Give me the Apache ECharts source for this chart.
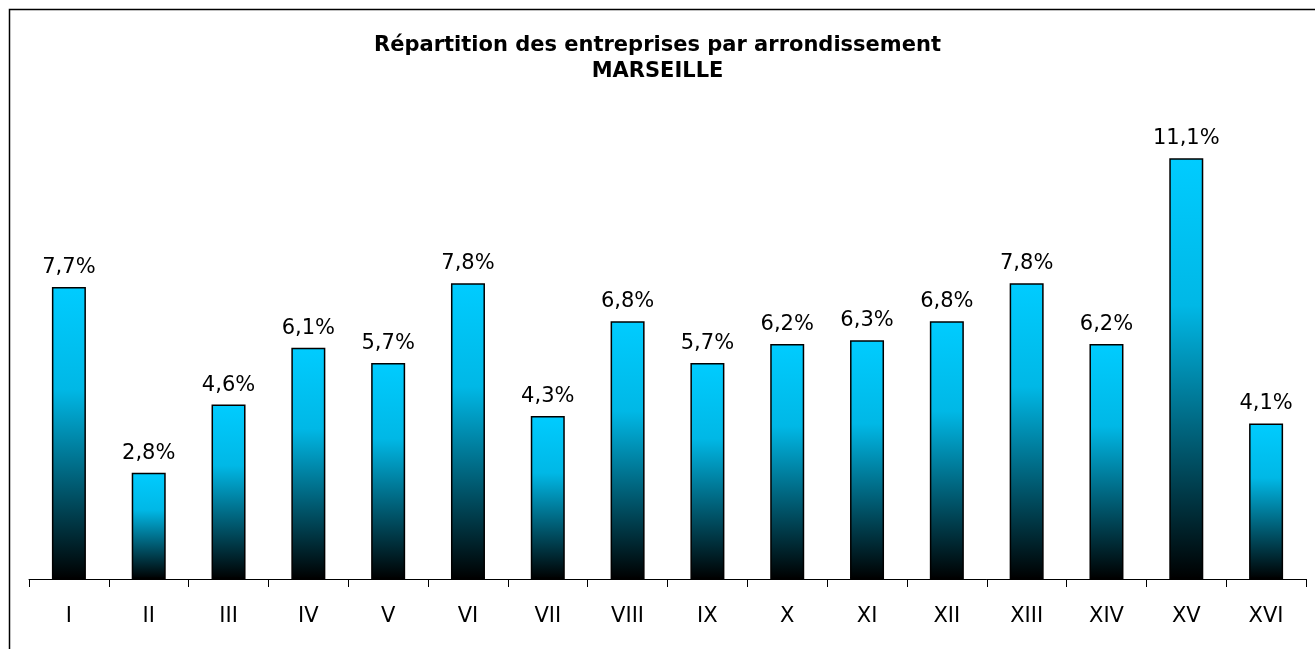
<!DOCTYPE html>
<html>
<head>
<meta charset="utf-8">
<script src="https://cdn.jsdelivr.net/npm/echarts@6/dist/echarts.min.js"></script>
<style>
html,body{margin:0;padding:0;background:#fff;}
#chart{width:1315px;height:649px;}
</style>
</head>
<body>
<div id="chart"></div>
<script>
var categories=['I','II','III','IV','V','VI','VII','VIII','IX','X','XI','XII','XIII','XIV','XV','XVI'];
var shares=[7.7,2.8,4.6,6.1,5.7,7.8,4.3,6.8,5.7,6.2,6.3,6.8,7.8,6.2,11.1,4.1];
var titleLines=['Répartition des entreprises par arrondissement','MARSEILLE'];

var chart=echarts.init(document.getElementById('chart'));
var option={
	animation:false,
	textStyle:{fontFamily:'DejaVu Sans'},
	title:{
		text:titleLines.join('\n'),
		left:'center',
		top:28,
		textStyle:{fontSize:21,fontWeight:'bold',color:'#000',lineHeight:26,fontFamily:'DejaVu Sans'}
	},
	graphic:[{
		type:'rect',
		shape:{x:9.5,y:9.5,width:1330,height:680},
		style:{fill:null,stroke:'#000',lineWidth:1.5},
		silent:true
	}],
	grid:{left:29,right:9,top:124,bottom:70,containLabel:false},
	xAxis:{
		type:'category',
		data:categories,
		boundaryGap:true,
		axisLine:{lineStyle:{color:'#000',width:1}},
		axisTick:{show:true,length:8,lineStyle:{color:'#000'}},
		axisLabel:{color:'#000',fontSize:21,margin:27}
	},
	yAxis:{
		type:'value',
		min:0,
		max:12,
		show:false,
		splitLine:{show:false}
	},
	series:[{
		type:'bar',
		data:shares,
		barWidth:34,
		itemStyle:{
			color:new echarts.graphic.LinearGradient(0,0,0,1,[
				{offset:0,color:'#00ccff'},
				{offset:0.35,color:'#00b8e6'},
				{offset:1,color:'#000000'}
			]),
			borderColor:'#000',
			borderWidth:1.5
		},
		label:{
			show:true,
			position:'top',
			distance:9,
			color:'#000',
			fontSize:21,
			formatter:function(p){return p.value.toFixed(1).replace('.',',')+'%';}
		}
	}]
};
chart.setOption(option);
</script>
</body>
</html>
